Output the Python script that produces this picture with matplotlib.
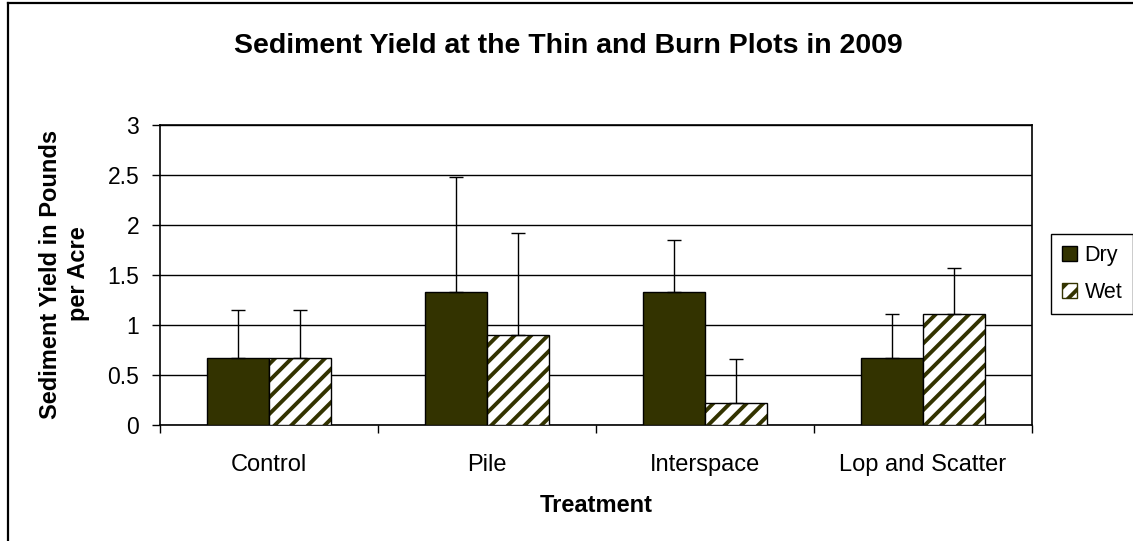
import matplotlib
matplotlib.use("Agg")
import numpy as np
import matplotlib.pyplot as plt
from matplotlib.lines import Line2D
from matplotlib.patches import Patch

# data
treatments = ["Control", "Pile", "Interspace", "Lop and Scatter"]
dry_yield = [0.67, 1.33, 1.33, 0.67]
wet_yield = [0.67, 0.90, 0.22, 1.11]
dry_err = [0.48, 1.15, 0.52, 0.44]
wet_err = [0.48, 1.02, 0.44, 0.46]
y_ticks = [0, 0.5, 1, 1.5, 2, 2.5, 3]
y_tick_labels = ["0", "0.5", "1", "1.5", "2", "2.5", "3"]

plt.rcParams["font.family"] = ["Liberation Sans", "DejaVu Sans"]
plt.rcParams["hatch.linewidth"] = 2.8

dry_color = "#333300"

fig = plt.figure(figsize=(11.33, 5.41), dpi=100)
ax = fig.add_axes([0.1412, 0.2139, 0.9109 - 0.1412, 0.7695 - 0.2139])

x = np.arange(len(treatments))
w = 0.286

ax.bar(x - w / 2, dry_yield, w, color=dry_color, edgecolor="black", linewidth=1.0, zorder=3)
ax.bar(x + w / 2, wet_yield, w, color="white", edgecolor=dry_color, hatch="//", linewidth=0,
       zorder=3)
ax.bar(x + w / 2, wet_yield, w, fill=False, edgecolor="black", linewidth=1.0, zorder=4)

ax.errorbar(x - w / 2, dry_yield, yerr=[np.zeros(4), dry_err], fmt="none", ecolor="black",
            elinewidth=1.0, capsize=4.7, capthick=1.0, zorder=5)
ax.errorbar(x + w / 2, wet_yield, yerr=[np.zeros(4), wet_err], fmt="none", ecolor="black",
            elinewidth=1.0, capsize=4.7, capthick=1.0, zorder=5)

ax.set_xlim(-0.5, len(treatments) - 0.5)
ax.set_ylim(0, 3)
ax.set_yticks(y_ticks)
ax.set_yticklabels(y_tick_labels, fontsize=16.5)
ax.yaxis.grid(True, color="black", linewidth=1.0)
ax.set_axisbelow(True)

# boundaries between categories carry the tick marks, names sit in the middle
ax.set_xticks(np.arange(len(treatments) + 1) - 0.5)
ax.set_xticklabels([])
ax.set_xticks(x, minor=True)
ax.set_xticklabels(treatments, minor=True, fontsize=17)
ax.tick_params(axis="x", which="major", length=6, width=1, direction="out")
ax.tick_params(axis="x", which="minor", length=0, pad=21)
ax.tick_params(axis="y", length=6, width=1, direction="out", pad=9)

for s in ax.spines.values():
    s.set_color("black")
    s.set_linewidth(1.2)

fig.text(0.5018, 0.915, "Sediment Yield at the Thin and Burn Plots in 2009",
         ha="center", va="center", fontsize=20.5, fontweight="bold")
fig.text(0.526, 0.0665, "Treatment", ha="center", va="center", fontsize=17,
         fontweight="bold")
fig.text(0.0569, 0.4935, "Sediment Yield in Pounds\nper Acre", ha="center", va="center",
         rotation=90, fontsize=17, fontweight="bold", linespacing=1.3)

handles = [Patch(facecolor=dry_color, edgecolor="black", linewidth=1.0),
           Patch(facecolor="white", edgecolor=dry_color, hatch="//", linewidth=1.0)]
leg = fig.legend(handles, ["Dry", "Wet"], loc="center", bbox_to_anchor=(0.9638, 0.4935),
                 fontsize=15.5, frameon=True, fancybox=False, framealpha=1,
                 edgecolor="black", handlelength=0.7, handleheight=0.7,
                 handletextpad=0.35, labelspacing=0.75, borderpad=0.5,
                 borderaxespad=0)
leg.get_frame().set_linewidth(1.0)

# chart border (only left and top edges fall inside the image)
fig.add_artist(Line2D([8 / 1133, 8 / 1133], [0, 1 - 3 / 541], color="black", linewidth=1.6))
fig.add_artist(Line2D([8 / 1133, 1], [1 - 3 / 541, 1 - 3 / 541], color="black", linewidth=1.6))

fig.savefig("out.png", dpi=100)
